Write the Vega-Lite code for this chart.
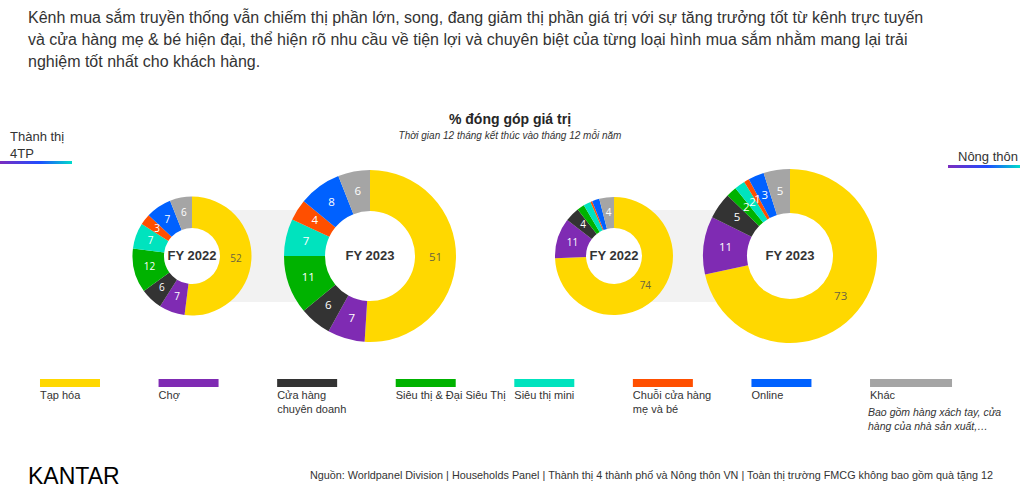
{
  "$schema": "https://vega.github.io/schema/vega-lite/v6.json",
  "background": "white",
  "padding": {"left": 0, "right": 0, "top": 10, "bottom": 0},
  "datasets": {
    "share": [
      {"area": "Thành thị 4TP", "period": "FY 2022", "channel": "Tạp hóa", "i": 1, "value": 52},
      {"area": "Thành thị 4TP", "period": "FY 2022", "channel": "Chợ", "i": 2, "value": 7},
      {"area": "Thành thị 4TP", "period": "FY 2022", "channel": "Cửa hàng chuyên doanh", "i": 3, "value": 6},
      {"area": "Thành thị 4TP", "period": "FY 2022", "channel": "Siêu thị & Đại Siêu Thị", "i": 4, "value": 12},
      {"area": "Thành thị 4TP", "period": "FY 2022", "channel": "Siêu thị mini", "i": 5, "value": 7},
      {"area": "Thành thị 4TP", "period": "FY 2022", "channel": "Chuỗi cửa hàng mẹ và bé", "i": 6, "value": 3},
      {"area": "Thành thị 4TP", "period": "FY 2022", "channel": "Online", "i": 7, "value": 7},
      {"area": "Thành thị 4TP", "period": "FY 2022", "channel": "Khác", "i": 8, "value": 6},
      {"area": "Thành thị 4TP", "period": "FY 2023", "channel": "Tạp hóa", "i": 1, "value": 51},
      {"area": "Thành thị 4TP", "period": "FY 2023", "channel": "Chợ", "i": 2, "value": 7},
      {"area": "Thành thị 4TP", "period": "FY 2023", "channel": "Cửa hàng chuyên doanh", "i": 3, "value": 6},
      {"area": "Thành thị 4TP", "period": "FY 2023", "channel": "Siêu thị & Đại Siêu Thị", "i": 4, "value": 11},
      {"area": "Thành thị 4TP", "period": "FY 2023", "channel": "Siêu thị mini", "i": 5, "value": 7},
      {"area": "Thành thị 4TP", "period": "FY 2023", "channel": "Chuỗi cửa hàng mẹ và bé", "i": 6, "value": 4},
      {"area": "Thành thị 4TP", "period": "FY 2023", "channel": "Online", "i": 7, "value": 8},
      {"area": "Thành thị 4TP", "period": "FY 2023", "channel": "Khác", "i": 8, "value": 6},
      {"area": "Nông thôn", "period": "FY 2022", "channel": "Tạp hóa", "i": 1, "value": 74},
      {"area": "Nông thôn", "period": "FY 2022", "channel": "Chợ", "i": 2, "value": 11},
      {"area": "Nông thôn", "period": "FY 2022", "channel": "Cửa hàng chuyên doanh", "i": 3, "value": 4},
      {"area": "Nông thôn", "period": "FY 2022", "channel": "Siêu thị & Đại Siêu Thị", "i": 4, "value": 2},
      {"area": "Nông thôn", "period": "FY 2022", "channel": "Siêu thị mini", "i": 5, "value": 2},
      {"area": "Nông thôn", "period": "FY 2022", "channel": "Chuỗi cửa hàng mẹ và bé", "i": 6, "value": 0.5},
      {"area": "Nông thôn", "period": "FY 2022", "channel": "Online", "i": 7, "value": 2},
      {"area": "Nông thôn", "period": "FY 2022", "channel": "Khác", "i": 8, "value": 4},
      {"area": "Nông thôn", "period": "FY 2023", "channel": "Tạp hóa", "i": 1, "value": 73},
      {"area": "Nông thôn", "period": "FY 2023", "channel": "Chợ", "i": 2, "value": 11},
      {"area": "Nông thôn", "period": "FY 2023", "channel": "Cửa hàng chuyên doanh", "i": 3, "value": 5},
      {"area": "Nông thôn", "period": "FY 2023", "channel": "Siêu thị & Đại Siêu Thị", "i": 4, "value": 2},
      {"area": "Nông thôn", "period": "FY 2023", "channel": "Siêu thị mini", "i": 5, "value": 2},
      {"area": "Nông thôn", "period": "FY 2023", "channel": "Chuỗi cửa hàng mẹ và bé", "i": 6, "value": 1},
      {"area": "Nông thôn", "period": "FY 2023", "channel": "Online", "i": 7, "value": 3},
      {"area": "Nông thôn", "period": "FY 2023", "channel": "Khác", "i": 8, "value": 5}
    ],
    "legend": [
      {"channel": "Tạp hóa", "i": 1, "label": "Tạp hóa"},
      {"channel": "Chợ", "i": 2, "label": "Chợ"},
      {"channel": "Cửa hàng chuyên doanh", "i": 3, "label": "Cửa hàng\nchuyên doanh"},
      {"channel": "Siêu thị & Đại Siêu Thị", "i": 4, "label": "Siêu thị & Đại Siêu Thị"},
      {"channel": "Siêu thị mini", "i": 5, "label": "Siêu thị mini"},
      {"channel": "Chuỗi cửa hàng mẹ và bé", "i": 6, "label": "Chuỗi cửa hàng\nmẹ và bé"},
      {"channel": "Online", "i": 7, "label": "Online"},
      {"channel": "Khác", "i": 8, "label": "Khác", "note": "Bao gồm hàng xách tay, cửa\nhàng của nhà sản xuất,…"}
    ]
  },
  "title": {
    "text": [
      "Kênh mua sắm truyền thống vẫn chiếm thị phần lớn, song, đang giảm thị phần giá trị với sự tăng trưởng tốt từ kênh trực tuyến",
      "và cửa hàng mẹ & bé hiện đại, thể hiện rõ nhu cầu về tiện lợi và chuyên biệt của từng loại hình mua sắm nhằm mang lại trải",
      "nghiệm tốt nhất cho khách hàng."
    ],
    "anchor": "start", "frame": "group", "dx": 28, "offset": 43,
    "fontSize": 16, "fontWeight": "normal", "lineHeight": 22, "color": "#333333", "font": "Liberation Sans"
  },
  "spacing": 28,
  "vconcat": [
    {
      "hconcat": [
        {
          "width": 72, "height": 3,
          "data": {"name": "share"},
          "transform": [{"filter": "datum.area === 'Thành thị 4TP'"}, {"aggregate": [{"op": "count", "as": "n"}], "groupby": ["area"]}],
          "mark": {"type": "rect", "fill": {"gradient": "linear", "x1": 0, "y1": 0, "x2": 1, "y2": 0, "stops": [{"offset": 0, "color": "#7b2cbf"}, {"offset": 0.55, "color": "#1f4dff"}, {"offset": 1, "color": "#00dccb"}]}},
          "encoding": {},
          "title": {"text": ["Thành thị", "4TP"], "anchor": "start", "frame": "group", "dx": 10, "offset": 0, "fontSize": 13, "fontWeight": "normal", "lineHeight": 17, "color": "#333333"}
        },
        {
          "width": 350, "height": 190,
          "data": {"name": "share"},
          "transform": [{"filter": "datum.area === 'Thành thị 4TP'"}],
          "encoding": {"x": {"field": "period", "type": "nominal", "axis": null, "scale": {"type": "point", "domain": ["FY 2022", "FY 2023"], "padding": 0.4831}}},
          "layer": [
            {"transform": [{"aggregate": [{"op": "count", "as": "n"}], "groupby": ["area"]}],
             "mark": {"type": "rect", "color": "#f2f2f2"},
             "encoding": {"x": {"datum": "FY 2022"}, "x2": {"datum": "FY 2023"}, "y": {"field": "area", "type": "nominal", "axis": null, "scale": {"type": "band", "paddingInner": 0, "paddingOuter": 0.5326}}}},
            {"transform": [{"filter": "datum.period === 'FY 2022'"}],
             "layer": [
               {"transform": [{"aggregate": [{"op": "count", "as": "n"}], "groupby": ["period"]}], "mark": {"type": "arc", "radius": 28, "radius2": 0, "color": "white"}},
               {"mark": {"type": "arc", "radius": 59.5, "radius2": 28},
                "encoding": {"theta": {"field": "value", "type": "quantitative", "stack": "normalize"}, "order": {"field": "i", "type": "quantitative"},
                  "color": {"field": "channel", "type": "nominal", "legend": null, "scale": {"domain": ["Tạp hóa", "Chợ", "Cửa hàng chuyên doanh", "Siêu thị & Đại Siêu Thị", "Siêu thị mini", "Chuỗi cửa hàng mẹ và bé", "Online", "Khác"], "range": ["#FFD800", "#7F2BB3", "#333333", "#00B200", "#00E3BE", "#FF4F00", "#0061FF", "#A5A5A5"]}}}},
               {"mark": {"type": "text", "radius": 44, "fontSize": 10, "font": "Open Sans"},
                "encoding": {"theta": {"field": "value", "type": "quantitative", "stack": "normalize"}, "order": {"field": "i", "type": "quantitative"}, "detail": {"field": "channel"},
                  "text": {"field": "value", "type": "quantitative"},
                  "color": {"condition": {"test": "datum.channel === 'Tạp hóa'", "value": "#6b6440"}, "value": "#ffffff"}}},
               {"transform": [{"aggregate": [{"op": "count", "as": "n"}], "groupby": ["period"]}], "mark": {"type": "text", "fontWeight": "bold", "fontSize": 13, "color": "#333333"}, "encoding": {"text": {"field": "period"}}}
             ]},
            {"transform": [{"filter": "datum.period === 'FY 2023'"}],
             "layer": [
               {"transform": [{"aggregate": [{"op": "count", "as": "n"}], "groupby": ["period"]}], "mark": {"type": "arc", "radius": 45, "radius2": 0, "color": "white"}},
               {"mark": {"type": "arc", "radius": 86, "radius2": 45},
                "encoding": {"theta": {"field": "value", "type": "quantitative", "stack": "normalize"}, "order": {"field": "i", "type": "quantitative"},
                  "color": {"field": "channel", "type": "nominal", "legend": null}}},
               {"mark": {"type": "text", "radius": 65.5, "fontSize": 11.5, "font": "Open Sans"},
                "encoding": {"theta": {"field": "value", "type": "quantitative", "stack": "normalize"}, "order": {"field": "i", "type": "quantitative"}, "detail": {"field": "channel"},
                  "text": {"field": "value", "type": "quantitative"},
                  "color": {"condition": {"test": "datum.channel === 'Tạp hóa'", "value": "#6b6440"}, "value": "#ffffff"}}},
               {"transform": [{"aggregate": [{"op": "count", "as": "n"}], "groupby": ["period"]}], "mark": {"type": "text", "fontWeight": "bold", "fontSize": 13, "color": "#333333"}, "encoding": {"text": {"field": "period"}}}
             ]}
          ]
        },
        {
          "width": 424, "height": 190,
          "data": {"name": "share"},
          "transform": [{"filter": "datum.area === 'Nông thôn'"}],
          "encoding": {"x": {"field": "period", "type": "nominal", "axis": null, "scale": {"type": "point", "domain": ["FY 2022", "FY 2023"], "padding": 0.7045}}},
          "layer": [
            {"transform": [{"aggregate": [{"op": "count", "as": "n"}], "groupby": ["area"]}],
             "mark": {"type": "rect", "color": "#f2f2f2"},
             "encoding": {"x": {"datum": "FY 2022"}, "x2": {"datum": "FY 2023"}, "y": {"field": "area", "type": "nominal", "axis": null, "scale": {"type": "band", "paddingInner": 0, "paddingOuter": 0.5326}}}},
            {"transform": [{"filter": "datum.period === 'FY 2022'"}],
             "layer": [
               {"transform": [{"aggregate": [{"op": "count", "as": "n"}], "groupby": ["period"]}], "mark": {"type": "arc", "radius": 28, "radius2": 0, "color": "white"}},
               {"mark": {"type": "arc", "radius": 59, "radius2": 28},
                "encoding": {"theta": {"field": "value", "type": "quantitative", "stack": "normalize"}, "order": {"field": "i", "type": "quantitative"},
                  "color": {"field": "channel", "type": "nominal", "legend": null}}},
               {"mark": {"type": "text", "radius": 43.5, "fontSize": 10, "font": "Open Sans"},
                "encoding": {"theta": {"field": "value", "type": "quantitative", "stack": "normalize"}, "order": {"field": "i", "type": "quantitative"}, "detail": {"field": "channel"},
                  "text": {"field": "value", "type": "quantitative", "condition": {"test": "datum.value < 3", "value": ""}},
                  "color": {"condition": {"test": "datum.channel === 'Tạp hóa'", "value": "#6b6440"}, "value": "#ffffff"}}},
               {"transform": [{"aggregate": [{"op": "count", "as": "n"}], "groupby": ["period"]}], "mark": {"type": "text", "fontWeight": "bold", "fontSize": 13, "color": "#333333"}, "encoding": {"text": {"field": "period"}}}
             ]},
            {"transform": [{"filter": "datum.period === 'FY 2023'"}],
             "layer": [
               {"transform": [{"aggregate": [{"op": "count", "as": "n"}], "groupby": ["period"]}], "mark": {"type": "arc", "radius": 43, "radius2": 0, "color": "white"}},
               {"mark": {"type": "arc", "radius": 87, "radius2": 43},
                "encoding": {"theta": {"field": "value", "type": "quantitative", "stack": "normalize"}, "order": {"field": "i", "type": "quantitative"},
                  "color": {"field": "channel", "type": "nominal", "legend": null}}},
               {"mark": {"type": "text", "radius": 65, "fontSize": 11.5, "font": "Open Sans"},
                "encoding": {"theta": {"field": "value", "type": "quantitative", "stack": "normalize"}, "order": {"field": "i", "type": "quantitative"}, "detail": {"field": "channel"},
                  "text": {"field": "value", "type": "quantitative"},
                  "color": {"condition": {"test": "datum.channel === 'Tạp hóa'", "value": "#6b6440"}, "value": "#ffffff"}}},
               {"transform": [{"aggregate": [{"op": "count", "as": "n"}], "groupby": ["period"]}], "mark": {"type": "text", "fontWeight": "bold", "fontSize": 13, "color": "#333333"}, "encoding": {"text": {"field": "period"}}}
             ]}
          ]
        },
        {
          "width": 72, "height": 7,
          "data": {"name": "share"},
          "transform": [{"filter": "datum.area === 'Nông thôn'"}, {"aggregate": [{"op": "count", "as": "n"}], "groupby": ["area"]}],
          "mark": {"type": "rect", "fill": {"gradient": "linear", "x1": 0, "y1": 0, "x2": 1, "y2": 0, "stops": [{"offset": 0, "color": "#7b2cbf"}, {"offset": 0.55, "color": "#1f4dff"}, {"offset": 1, "color": "#00dccb"}]}},
          "encoding": {"y": {"field": "area", "type": "nominal", "axis": null, "scale": {"type": "band", "paddingInner": 0, "paddingOuter": 0.6667, "align": 1}}},
          "title": {"text": "Nông thôn", "anchor": "end", "frame": "group", "dx": -2, "offset": -3, "fontSize": 13, "fontWeight": "normal", "color": "#333333"}
        }
      ],
      "spacing": 34,
      "bounds": "flush",
      "title": {"text": "% đóng góp giá trị", "subtitle": "Thời gian 12 tháng kết thúc vào tháng 12 mỗi năm", "anchor": "middle", "frame": "bounds", "offset": -10, "fontSize": 14, "fontWeight": "bold", "color": "#262626", "subtitleFontSize": 10, "subtitleFontStyle": "italic", "subtitleColor": "#333333", "subtitlePadding": 4, "subtitleFont": "Liberation Sans"}
    },
    {
      "width": 1020, "height": 8,
      "data": {"name": "legend"},
      "layer": [
        {"mark": "rect",
         "encoding": {
           "x": {"field": "channel", "type": "nominal", "sort": {"field": "i", "op": "min"}, "axis": null, "scale": {"type": "band", "paddingInner": 0.494, "paddingOuter": 0.548, "align": 0.3077}},
           "color": {"field": "channel", "type": "nominal", "legend": null}}},
        {"transform": [{"filter": "datum.channel === 'Khác'"}], "mark": {"type": "rect", "xOffset": 22},
         "encoding": {
           "x": {"field": "channel", "type": "nominal", "sort": {"field": "i", "op": "min"}, "axis": null},
           "color": {"field": "channel", "type": "nominal", "legend": null}}},
        {"mark": {"type": "text", "align": "left", "baseline": "top", "dy": 7, "lineBreak": "\n", "fontSize": 11, "lineHeight": 14, "color": "#333333"},
         "encoding": {
           "x": {"field": "channel", "type": "nominal", "sort": {"field": "i", "op": "min"}, "axis": null, "bandPosition": 0},
           "text": {"field": "label"}}},
        {"transform": [{"filter": "isValid(datum.note)"}], "mark": {"type": "text", "align": "left", "baseline": "top", "dy": 25, "dx": -2, "lineBreak": "\n", "fontSize": 10.5, "lineHeight": 14, "fontStyle": "italic", "color": "#333333"},
         "encoding": {
           "x": {"field": "channel", "type": "nominal", "sort": {"field": "i", "op": "min"}, "axis": null, "bandPosition": 0},
           "text": {"field": "note"}}}
      ]
    },
    {
      "hconcat": [
        {
          "width": 300, "height": 1,
          "data": {"name": "legend"},
          "transform": [{"filter": "false"}],
          "mark": "rect",
          "encoding": {},
          "title": {"text": "KANTAR", "orient": "bottom", "anchor": "start", "frame": "group", "dx": 28, "offset": 4, "fontSize": 23, "fontWeight": 500, "color": "#000000"}
        },
        {
          "width": 720, "height": 1,
          "data": {"name": "legend"},
          "transform": [{"filter": "false"}],
          "mark": "rect",
          "encoding": {},
          "title": {"text": "Nguồn: Worldpanel Division | Households Panel | Thành thị 4 thành phố và Nông thôn VN | Toàn thị trường FMCG không bao gồm quà tặng     12", "orient": "bottom", "anchor": "end", "frame": "group", "dx": -27, "offset": 8, "fontSize": 10.8, "fontWeight": "normal", "color": "#333333"}
        }
      ],
      "spacing": 0,
      "bounds": "flush"
    }
  ],
  "config": {
    "view": {"stroke": null},
    "font": "Liberation Sans",
    "title": {"color": "#333333", "font": "Liberation Sans", "subtitleFont": "Liberation Sans"}
  }
}
